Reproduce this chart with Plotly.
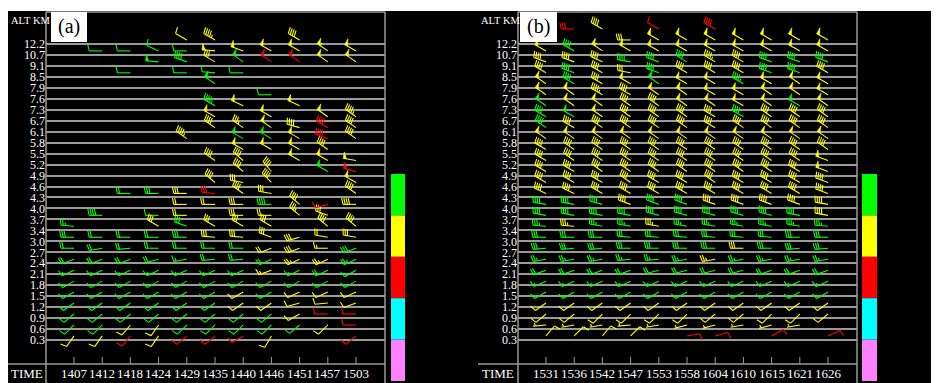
import math
import plotly.graph_objects as go

# the page body adds an 8px margin, so the figure starts at screen (8, 8)
OFF = 8
W, H = 939 - OFF, 383 - OFF

# ---------------- data ----------------
ALT_KM = ["0.3", "0.6", "0.9", "1.2", "1.5", "1.8", "2.1", "2.4", "2.7", "3.0",
          "3.4", "3.7", "4.0", "4.3", "4.6", "4.9", "5.2", "5.5", "5.8", "6.1",
          "6.7", "7.3", "7.6", "7.9", "8.5", "9.1", "10.7", "12.2"]
TIMES_A = ["1407", "1412", "1418", "1424", "1429", "1435", "1440", "1446", "1451", "1457", "1503"]
TIMES_B = ["1531", "1536", "1542", "1547", "1553", "1558", "1604", "1610", "1615", "1621", "1626"]
LEGEND_COLORS = ["#00ff00", "#ffff00", "#ff0000", "#00ffff", "#ff80ff"]
BARB_COLORS = {"g": "#00ff00", "y": "#ffff00", "r": "#ff0000"}

N = None
# rows listed from top (unlabelled level above 12.2) down to 0.3 km
QC_A = ["...........",
        "....yy..y..", ".ggggyyyyyy", "...ggygrryy", "..g.ggg....", ".....g.....",
        ".......g...", ".....gy.y..", ".....y.y.yy", ".....yyyyry", "....y.ggyry",
        "......yyyy.", ".....yy.yyy", "......yy.gr", ".....yyy..y", "..ggyryy..y",
        "....yyygyry", ".g.gy.yyyy.", "g..ygyyy.yy", "gggggyyyyyy", "gggggggyyyg",
        "ggggggggyyg", "gggggggyggg", "ggggggggggg", "ggggggygyyy", "ggggggyyyyy",
        "ggggggggyrr", "ggyygggggyr", "yyryrrry..r"]
DIR_A = [
    [N, N, N, N, N, N, N, N, N, N, N],
    [N, N, N, N, 300, 300, N, N, 300, N, N],
    [N, 270, 270, 295, 270, 275, 290, 300, 300, 305, 300],
    [N, N, N, 275, 290, 300, 305, 305, 305, 305, 305],
    [N, N, 270, N, 270, 275, 270, N, N, N, N],
    [N, N, N, N, N, 305, N, N, N, N, N],
    [N, N, N, N, N, N, N, 270, N, N, N],
    [N, N, N, N, N, 300, 295, N, 295, N, N],
    [N, N, N, N, N, 300, N, 300, N, 305, 305],
    [N, N, N, N, N, 305, 305, 305, 285, 300, 305],
    [N, N, N, N, 305, N, 300, 300, 300, 290, 305],
    [N, N, N, N, N, N, 300, 300, 300, 305, N],
    [N, N, N, N, N, 305, 310, N, 300, 300, 280],
    [N, N, N, N, N, N, 310, 320, N, 300, 285],
    [N, N, N, N, N, 310, 280, 315, N, N, 300],
    [N, N, 270, 270, 270, 275, 305, 280, N, N, 305],
    [N, N, N, N, 270, 270, 270, 270, 310, 255, 270],
    [N, 270, N, 270, 270, N, 270, 270, 310, 290, N],
    [275, N, N, 300, 290, 300, 300, 300, N, 310, 310],
    [270, 270, 270, 270, 270, 275, 275, 290, 255, 280, 280],
    [270, 260, 265, 270, 270, 270, 270, 250, 250, 270, 250],
    [250, 250, 250, 255, 260, 265, 265, 245, 245, 245, 245],
    [245, 245, 245, 245, 245, 245, 245, 250, 245, 245, 240],
    [240, 240, 240, 240, 240, 240, 240, 240, 240, 240, 240],
    [240, 240, 240, 240, 240, 240, 240, 240, 245, 245, 245],
    [235, 235, 235, 235, 235, 235, 235, 235, 255, 265, 250],
    [230, 230, 230, 230, 230, 230, 230, 230, 240, 270, 270],
    [225, 225, 220, 215, 225, 225, 225, 225, 230, 225, 270],
    [215, 215, 220, 215, 230, 230, 240, 210, N, N, 230],
]
SPD_A = [
    [N, N, N, N, N, N, N, N, N, N, N],
    [N, N, N, N, 10, 45, N, N, 40, N, N],
    [N, 10, 10, 10, 10, 50, 50, 50, 50, 55, 50],
    [N, N, N, 50, 40, 30, 50, 50, 50, 50, 50],
    [N, N, 10, N, 10, 10, 10, N, N, N, N],
    [N, N, N, N, N, 55, N, N, N, N, N],
    [N, N, N, N, N, N, N, 10, N, N, N],
    [N, N, N, N, N, 45, 50, N, 50, N, N],
    [N, N, N, N, N, 50, N, 50, N, 50, 45],
    [N, N, N, N, N, 40, 35, 50, 40, 40, 40],
    [N, N, N, N, 45, N, 50, 50, 50, 40, 40],
    [N, N, N, N, N, N, 50, 50, 50, 40, N],
    [N, N, N, N, N, 40, 40, N, 50, 50, 50],
    [N, N, N, N, N, N, 40, 40, N, 50, 50],
    [N, N, N, N, N, 40, 30, 40, N, N, 50],
    [N, N, 20, 30, 30, 30, 40, 30, N, N, 40],
    [N, N, N, N, 20, 20, 30, 40, 40, 10, 40],
    [N, 40, N, 10, 20, N, 30, 20, 35, 30, N],
    [25, N, N, 30, 30, 30, 30, 30, N, 40, 40],
    [30, 20, 20, 20, 30, 30, 30, 30, 30, 20, 30],
    [20, 20, 20, 20, 20, 20, 20, 20, 30, 15, 30],
    [20, 20, 20, 20, 15, 20, 20, 20, 25, 25, 25],
    [15, 15, 15, 15, 15, 15, 15, 15, 15, 20, 15],
    [15, 15, 15, 15, 15, 15, 15, 15, 15, 15, 15],
    [10, 10, 10, 10, 10, 10, 10, 10, 10, 10, 10],
    [10, 10, 10, 10, 10, 10, 10, 10, 10, 10, 10],
    [10, 10, 10, 10, 10, 10, 10, 10, 10, 10, 10],
    [10, 10, 10, 10, 10, 10, 10, 10, 10, 10, 10],
    [10, 10, 10, 10, 10, 10, 10, 10, N, N, 10],
]

QC_B = [".ry.r.r....",
        "...yyyyyyyy", "ygyyyyyyyyy", "yyygggyyggg", "ygyygyyyggy", "ygyygyygyyy",
        "yyyyyyyyyyy", "gyyyyyyyygy", "ggyyyyygyyy", "gyyyyyyyyyy", "yyyyyyyyyyy",
        "yyyyyyyyyyy", "yyyyyyyyyyy", "yyyyyyyyyyy", "yyyyyyyyyyy", "yyyyyyyyyyy",
        "gggyggyyyyy", "ggggggggggy", "gyggygggggg", "ggggggggggg", "gggggggyggg",
        "ggggggygggg", "ggggggggggg", "ggggggggggg", "ggggggggggg", "yyyyyyyyyyy",
        "yyyyyyyyyyy", "yyyyyyyyyy.", "yyyy.rr.r.r"]
DIR_B = [
    [N, 270, 300, N, 300, N, 300, N, N, N, N],
    [N, N, N, 270, 300, 300, 300, 300, 300, 300, 300],
    [300, 300, 305, 300, 300, 300, 300, 300, 300, 300, 300],
    [290, 290, 295, 280, 290, 300, 300, 300, 290, 290, 290],
    [300, 290, 300, 280, 290, 300, 300, 300, 290, 290, 300],
    [305, 300, 300, 300, 305, 300, 300, 300, 300, 305, 300],
    [305, 305, 300, 300, 305, 305, 300, 300, 305, 305, 300],
    [305, 305, 305, 305, 305, 305, 305, 300, 305, 300, 305],
    [300, 300, 305, 305, 305, 305, 300, 300, 305, 305, 305],
    [305, 300, 305, 305, 305, 305, 300, 305, 305, 305, 305],
    [305, 305, 305, 305, 305, 305, 305, 305, 305, 305, 305],
    [300, 305, 305, 305, 305, 305, 305, 305, 305, 305, 305],
    [300, 305, 305, 305, 305, 305, 305, 305, 305, 305, 290],
    [300, 300, 305, 305, 305, 305, 305, 305, 305, 300, 290],
    [300, 300, 300, 305, 300, 300, 305, 300, 300, 300, 290],
    [295, 295, 300, 300, 300, 300, 300, 300, 300, 300, 290],
    [280, 280, 285, 290, 290, 290, 290, 290, 290, 290, 280],
    [280, 280, 280, 280, 285, 285, 285, 285, 285, 280, 280],
    [275, 275, 280, 280, 280, 280, 280, 280, 280, 280, 275],
    [270, 270, 270, 275, 275, 275, 275, 275, 275, 270, 270],
    [265, 265, 265, 270, 270, 270, 270, 270, 270, 265, 265],
    [260, 260, 260, 265, 265, 260, 260, 260, 260, 260, 260],
    [250, 250, 250, 250, 255, 255, 255, 255, 250, 250, 250],
    [245, 245, 245, 245, 245, 245, 245, 245, 245, 245, 245],
    [240, 240, 240, 240, 240, 240, 240, 240, 240, 240, 240],
    [235, 235, 235, 235, 235, 235, 235, 235, 235, 235, 235],
    [230, 230, 225, 225, 225, 225, 230, 230, 225, 225, 230],
    [265, 260, 260, 265, 260, 255, 255, 260, 255, 260, N],
    [40, 45, 40, 45, N, 80, 75, N, 60, N, 65],
]
SPD_B = [
    [N, 30, 40, N, 10, N, 40, N, N, N, N],
    [N, N, N, 30, 50, 50, 50, 50, 50, 50, 50],
    [50, 40, 55, 50, 50, 50, 50, 50, 50, 50, 50],
    [40, 40, 40, 40, 40, 40, 45, 40, 40, 40, 40],
    [40, 40, 40, 30, 40, 40, 40, 40, 40, 40, 40],
    [50, 40, 40, 50, 50, 50, 50, 45, 50, 50, 50],
    [50, 50, 45, 40, 50, 50, 50, 50, 50, 50, 50],
    [50, 50, 50, 40, 40, 50, 50, 50, 50, 50, 50],
    [40, 50, 50, 40, 40, 40, 40, 40, 40, 40, 40],
    [40, 40, 40, 40, 40, 40, 40, 40, 40, 40, 40],
    [50, 50, 50, 50, 50, 50, 50, 50, 50, 50, 50],
    [40, 40, 40, 40, 40, 40, 40, 40, 40, 40, 40],
    [40, 40, 40, 40, 40, 40, 40, 40, 40, 40, 50],
    [40, 40, 40, 40, 40, 40, 40, 40, 40, 40, 50],
    [40, 40, 40, 40, 40, 40, 40, 40, 40, 40, 40],
    [40, 40, 40, 40, 40, 40, 40, 40, 40, 40, 40],
    [40, 40, 40, 40, 40, 40, 40, 40, 40, 40, 40],
    [40, 40, 40, 40, 40, 40, 40, 40, 40, 40, 40],
    [35, 35, 35, 35, 35, 35, 35, 35, 35, 35, 35],
    [30, 30, 30, 30, 30, 30, 30, 30, 30, 30, 30],
    [30, 30, 30, 30, 30, 30, 30, 30, 30, 30, 30],
    [25, 25, 25, 25, 25, 25, 25, 25, 25, 25, 25],
    [20, 20, 20, 20, 20, 20, 20, 20, 20, 20, 20],
    [15, 15, 15, 15, 15, 15, 15, 15, 15, 15, 15],
    [15, 15, 15, 15, 15, 15, 15, 15, 15, 15, 15],
    [10, 10, 10, 10, 10, 10, 10, 10, 10, 10, 10],
    [10, 10, 10, 10, 10, 10, 10, 10, 10, 10, 10],
    [5, 5, 5, 5, 5, 5, 5, 5, 5, 5, N],
    [10, 10, 10, 10, N, 10, 10, N, 10, N, 10],
]

# ---------------- geometry helpers ----------------
PX_X = 28.2        # pixels per time step
PX_Y = 296.0 / 27  # pixels per altitude level
STAFF, BARB, GAP, FLAGW = 13.0, 6.5, 2.2, 3.2
STATION_OFF = 0.37  # station sits slightly above its level line
Y_RANGE = [-(383 - 340) / PX_Y, 27 + (44 - 12) / PX_Y]
X_RANGE = [-(74 - 46) / PX_X, (385 - 74) / PX_X]


def barb(x0, y0, d, s):
    segs, polys = [], []
    r = math.radians(d)
    ux, uy = math.sin(r), math.cos(r)
    px_, py_ = uy, -ux
    sl = math.radians(12)
    bx = px_ * math.cos(sl) + ux * math.sin(sl)
    by = py_ * math.cos(sl) + uy * math.sin(sl)

    def P(a, b):
        return (x0 + a / PX_X, y0 + b / PX_Y)

    segs.append([P(0, 0), P(ux * STAFF, uy * STAFF)])
    s5 = int(round(s / 5.0)) * 5
    nf, rem = divmod(s5, 50)
    nb, rem = divmod(rem, 10)
    nh = rem // 5
    pos = STAFF
    for _ in range(nf):
        polys.append([P(ux * pos, uy * pos),
                      P(ux * pos + px_ * BARB, uy * pos + py_ * BARB),
                      P(ux * (pos - FLAGW), uy * (pos - FLAGW))])
        pos -= FLAGW + 0.8
    for _ in range(nb):
        segs.append([P(ux * pos, uy * pos), P(ux * pos + bx * BARB, uy * pos + by * BARB)])
        pos -= GAP
    if nh:
        if nf == 0 and nb == 0:
            pos -= GAP
        segs.append([P(ux * pos, uy * pos), P(ux * pos + bx * BARB / 2, uy * pos + by * BARB / 2)])
    return segs, polys


def barb_traces(qc, dirs, spds, xa, ya):
    out = []
    nrows = len(qc)
    for code, col in BARB_COLORS.items():
        lx, ly, fx, fy = [], [], [], []
        for r in range(nrows):
            level = nrows - 1 - r   # row 0 is the unlabelled level above 12.2
            for j in range(len(qc[r])):
                if qc[r][j] != code or dirs[r][j] is None:
                    continue
                segs, polys = barb(j, level + STATION_OFF, dirs[r][j], spds[r][j])
                for sg in segs:
                    lx += [sg[0][0], sg[1][0], None]
                    ly += [sg[0][1], sg[1][1], None]
                for pg in polys:
                    fx += [p[0] for p in pg] + [pg[0][0], None]
                    fy += [p[1] for p in pg] + [pg[0][1], None]
        out.append(go.Scatter(x=lx, y=ly, mode="lines", xaxis=xa, yaxis=ya,
                              line=dict(color=col, width=1.1), hoverinfo="skip", showlegend=False))
        if fx:
            out.append(go.Scatter(x=fx, y=fy, mode="lines", fill="toself", fillcolor=col,
                                  xaxis=xa, yaxis=ya, line=dict(color=col, width=0.6),
                                  hoverinfo="skip", showlegend=False))
    return out


def tick_trace(times, xa, ya):
    tx, ty = [], []
    y_top, y_bot = -(357 - 340) / PX_Y, -(364 - 340) / PX_Y
    for j in range(len(times)):
        tx += [j, j, None]
        ty += [y_top, y_bot, None]
    return go.Scatter(x=tx, y=ty, mode="lines", xaxis=xa, yaxis=ya,
                      line=dict(color="#9a9a9a", width=1), hoverinfo="skip", showlegend=False)


fig = go.Figure()
for t in barb_traces(QC_A, DIR_A, SPD_A, "x", "y"):
    fig.add_trace(t)
for t in barb_traces(QC_B, DIR_B, SPD_B, "x2", "y2"):
    fig.add_trace(t)
fig.add_trace(tick_trace(TIMES_A, "x", "y"))
fig.add_trace(tick_trace(TIMES_B, "x2", "y2"))

FONT = "Liberation Serif, Times New Roman, serif"


def px(x):
    return (x - OFF) / W


def py(y):
    return 1 - (y - OFF) / H


yax = dict(range=Y_RANGE, domain=[py(383), py(12)], tickmode="array",
           tickvals=list(range(len(ALT_KM))), ticktext=ALT_KM,
           showgrid=True, gridcolor="#9a9a9a", gridwidth=1.5, zeroline=False,
           showline=False, ticks="", tickfont=dict(family=FONT, size=12, color="white"))
fig.update_layout(
    width=W, height=H, margin=dict(l=0, r=0, t=0, b=0),
    paper_bgcolor="black", plot_bgcolor="black",
    xaxis=dict(domain=[px(46), px(385)], range=X_RANGE, visible=False, anchor="y"),
    yaxis=dict(anchor="x", **yax),
    xaxis2=dict(domain=[px(518), px(857)], range=X_RANGE, visible=False, anchor="y2"),
    yaxis2=dict(anchor="x2", **yax),
)

shapes = []
GRAY = "#9a9a9a"


def hline(x0, x1, y, w=1.5):
    shapes.append(dict(type="line", xref="paper", yref="paper", x0=px(x0), x1=px(x1),
                       y0=py(y), y1=py(y), line=dict(color=GRAY, width=w)))


def vline(x, y0, y1, w=1.5):
    shapes.append(dict(type="line", xref="paper", yref="paper", x0=px(x), x1=px(x),
                       y0=py(y0), y1=py(y1), line=dict(color=GRAY, width=w)))


def rect(x0, y0, x1, y1, color):
    shapes.append(dict(type="rect", xref="paper", yref="paper", x0=px(x0), x1=px(x1),
                       y0=py(y0), y1=py(y1), fillcolor=color, line=dict(width=0)))


# white strip along the top
rect(OFF, OFF, 939, 11, "white")
# panel frames
for left, right, sep0 in [(46, 385, 8), (518, 857, 478)]:
    vline(left, 12, 383)
    vline(right, 12, 383)
    hline(left, right, 12)
    hline(sep0, right, 364)
# legend colour bars
for x0, x1 in [(391, 405), (862, 877)]:
    edges = [174, 215.4, 256.8, 298.2, 339.6, 381]
    for k, c in enumerate(LEGEND_COLORS):
        rect(x0, edges[k], x1, edges[k + 1], c)
# panel label boxes
rect(51, 12, 87, 42, "white")
rect(520, 12, 557, 42, "white")

annotations = []
for xref, yref, times in [("x", "y", TIMES_A), ("x2", "y2", TIMES_B)]:
    for j, t in enumerate(times):
        annotations.append(dict(x=j, y=-(373 - 340) / PX_Y, xref=xref, yref=yref, text=t,
                                xanchor="center", yanchor="middle", showarrow=False,
                                font=dict(family=FONT, size=13, color="white")))
for xl, lab, bx in [(8.5, "(a)", 69), (478.5, "(b)", 538.5)]:
    annotations.append(dict(x=px(xl), y=py(21), xref="paper", yref="paper", text="ALT KM",
                            xanchor="left", yanchor="middle", showarrow=False,
                            font=dict(family=FONT, size=10.5, color="white")))
    annotations.append(dict(x=px(bx), y=py(27), xref="paper", yref="paper", text=lab,
                            xanchor="center", yanchor="middle", showarrow=False,
                            font=dict(family=FONT, size=20, color="black")))
for x0 in [8.5, 480]:
    annotations.append(dict(x=px(x0), y=py(373), xref="paper", yref="paper", text="TIME",
                            xanchor="left", yanchor="middle", showarrow=False,
                            font=dict(family=FONT, size=13, color="white")))

fig.update_layout(shapes=shapes, annotations=annotations)
fig.write_html("out.html")
